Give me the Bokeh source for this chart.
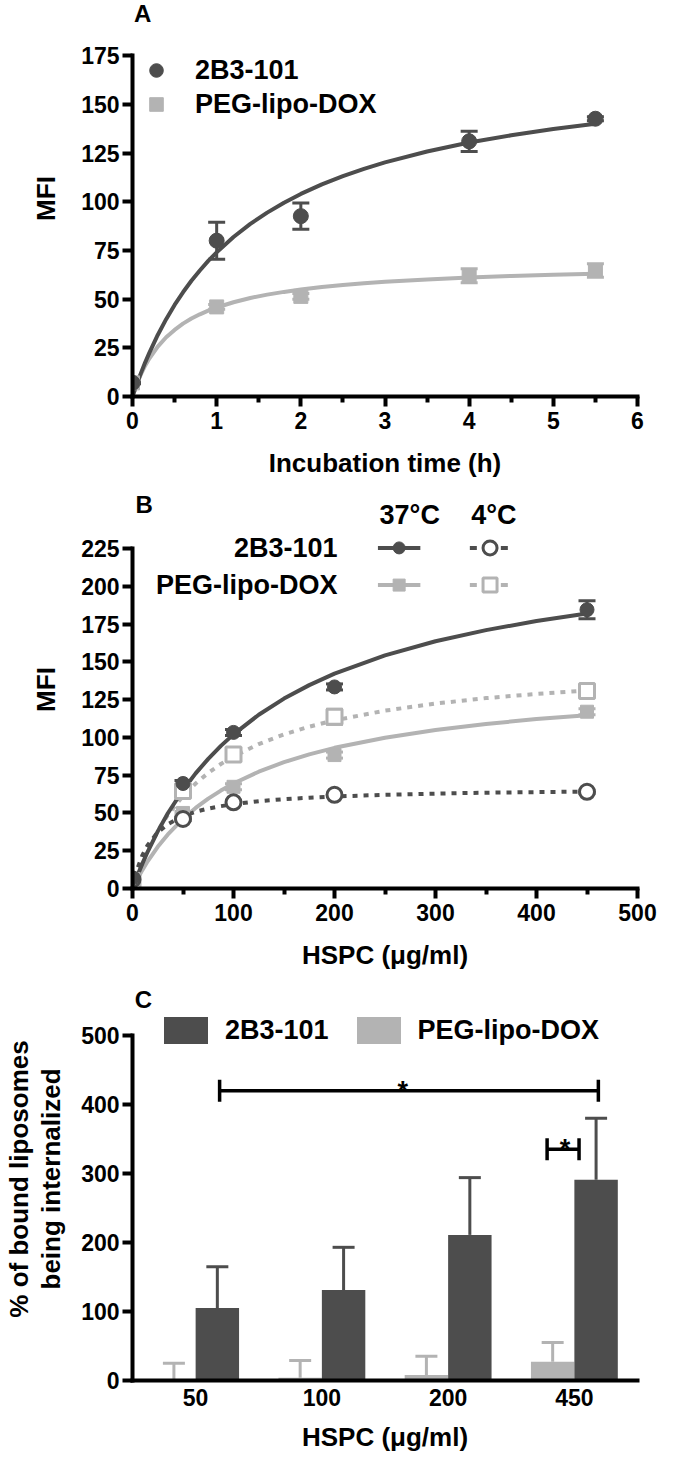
from bokeh.plotting import figure
from bokeh.models import (Range1d, FixedTicker, Whisker, TeeHead, ColumnDataSource,
                          Legend, LegendItem, FactorRange, Label)
from bokeh.transform import dodge
from bokeh.layouts import column
from bokeh.core.properties import value
from bokeh.embed import file_html
from bokeh.resources import INLINE

# ---------------- data: panel A ----------------
a_time = [0, 1, 2, 4, 5.5]
a_2b3 = [7, 80, 92.6, 131, 142.6]
a_2b3_sem = [0.5, 9.5, 6.8, 5.2, 1.0]
a_peg = [7, 46, 51.4, 62, 64.7]
a_peg_sem = [0.5, 1.2, 1.5, 3.6, 3.5]
a_fit_time = [0, 0.05, 0.1, 0.15, 0.2, 0.3, 0.4, 0.5, 0.6, 0.7, 0.8, 0.9, 1, 1.2, 1.4,
              1.6, 1.8, 2, 2.25, 2.5, 2.75, 3, 3.5, 4, 4.5, 5, 5.5]
a_fit_2b3 = [0, 6.2, 12.0, 17.4, 22.4, 31.6, 39.7, 47.0, 53.5, 59.4, 64.7, 69.6, 74.0, 81.9, 88.6,
             94.4, 99.5, 104.0, 108.9, 113.1, 116.9, 120.2, 125.8, 130.4, 134.1, 137.3, 140.0]
a_fit_peg = [0, 6.2, 11.4, 15.8, 19.5, 25.6, 30.4, 34.2, 37.4, 40.0, 42.2, 44.1, 45.7, 48.4, 50.6,
             52.3, 53.7, 54.9, 56.2, 57.2, 58.1, 58.9, 60.1, 61.1, 61.9, 62.5, 63.0]
a_xticks = [0, 1, 2, 3, 4, 5, 6]
a_xminor = [0.5, 1.5, 2.5, 3.5, 4.5, 5.5]
a_yticks = [0, 25, 50, 75, 100, 125, 150, 175]

# ---------------- data: panel B ----------------
b_hspc = [0, 50, 100, 200, 450]
b_2b3_37 = [7, 69.5, 103.3, 133.4, 184.5]
b_2b3_37_sem = [1, 2, 2, 2, 6]
b_peg_37 = [5, 50, 67.3, 88.3, 117]
b_peg_37_sem = [1, 1, 2, 2, 2]
b_2b3_4 = [6, 46, 57, 62, 64]
b_2b3_4_sem = [1, 1, 1, 1, 1]
b_peg_4 = [5, 64.5, 88.6, 113.6, 130.7]
b_peg_4_sem = [1, 2, 4, 5, 2]
b_fit_hspc = [0, 5, 10, 15, 25, 35, 50, 62.5, 75, 87.5, 100, 125, 150, 175, 200,
              250, 300, 350, 400, 450]
b_fit_2b3_37 = [0, 8.7, 16.8, 24.3, 37.8, 49.8, 65.2, 76.2, 85.8, 94.4, 102.0, 115.0, 125.7,
                134.6, 142.2, 154.3, 163.6, 171.0, 177.0, 182.0]
b_fit_peg_37 = [0, 6.5, 12.5, 18.0, 27.6, 35.8, 46.1, 53.3, 59.5, 64.8, 69.5, 77.3, 83.6,
                88.8, 93.1, 99.8, 104.9, 108.9, 112.1, 114.7]
b_fit_2b3_4 = [0, 13.4, 22.3, 28.7, 37.2, 42.6, 47.9, 50.8, 52.9, 54.5, 55.8, 57.8, 59.1,
               60.1, 60.9, 62.0, 62.8, 63.4, 63.8, 64.1]
b_fit_peg_4 = [0, 9.6, 18.0, 25.5, 38.3, 48.7, 61.2, 69.5, 76.5, 82.4, 87.4, 95.6, 102.0,
               107.1, 111.3, 117.7, 122.4, 126.0, 128.8, 131.1]
b_xticks = [0, 100, 200, 300, 400, 500]
b_xminor = [50, 150, 250, 350, 450]
b_yticks = [0, 25, 50, 75, 100, 125, 150, 175, 200, 225]

# ---------------- data: panel C ----------------
c_hspc = ["50", "100", "200", "450"]
c_2b3 = [105, 131, 211, 291]
c_2b3_sem = [60, 62, 83, 89]
c_peg = [0, 4, 8, 27]
c_peg_sem = [25, 25, 27, 28]
c_yticks = [0, 100, 200, 300, 400, 500]

DARK = "#4d4d4d"
LIGHT = "#b3b3b3"
FONT = "Liberation Sans"


def style(p):
    for ax in p.axis:
        ax.axis_line_width = 4
        ax.axis_line_color = "black"
        ax.axis_line_cap = "square"
        ax.major_tick_line_width = 4
        ax.major_tick_line_color = "black"
        ax.major_tick_out = 10
        ax.major_tick_in = 0
        ax.minor_tick_line_width = 4
        ax.minor_tick_line_color = "black"
        ax.minor_tick_out = 6
        ax.minor_tick_in = 0
        ax.major_label_text_font = FONT
        ax.major_label_text_font_style = "bold"
        ax.major_label_text_font_size = "23px"
        ax.major_label_text_color = "black"
        ax.axis_label_text_font = FONT
        ax.axis_label_text_font_style = "bold"
        ax.axis_label_text_font_size = "26px"
        ax.axis_label_text_color = "black"
    p.xgrid.visible = False
    p.ygrid.visible = False
    p.outline_line_color = None


def letter(p, x, y, t, **kw):
    p.add_layout(Label(x=x, y=y, text=t, text_font=FONT, text_font_style="bold",
                       text_font_size="24px", text_align="center",
                       text_baseline="middle", text_color="black", **kw))


def whisk(p, src, base, up, lo, color, head=17, lower_head=True):
    p.add_layout(Whisker(source=src, base=base, upper=up, lower=lo,
                         line_color=color, line_width=3,
                         upper_head=TeeHead(size=head, line_color=color, line_width=3),
                         lower_head=(TeeHead(size=head, line_color=color, line_width=3)
                                     if lower_head else None)))


def add_err(lst, sem, sign):
    return [v + sign * e for v, e in zip(lst, sem)]


# ================= Panel A =================
pa = figure(width=657, height=490, x_range=Range1d(0, 6), y_range=Range1d(0, 203.3),
            min_border_left=127, min_border_right=20, min_border_top=0,
            min_border_bottom=94, output_backend="svg", toolbar_location=None)
style(pa)
pa.xaxis.ticker = FixedTicker(ticks=a_xticks, minor_ticks=a_xminor)
pa.yaxis.ticker = FixedTicker(ticks=a_yticks, minor_ticks=[])
pa.xaxis.bounds = (0, 6)
pa.yaxis.bounds = (0, 175)
pa.xaxis.axis_label = "Incubation time (h)"
pa.yaxis.axis_label = "MFI"
pa.xaxis.major_label_standoff = 5
pa.yaxis.major_label_standoff = 3
pa.xaxis.axis_label_standoff = 16
pa.yaxis.axis_label_standoff = 17

srcA = ColumnDataSource(dict(t=a_time,
                             d=a_2b3, d_hi=add_err(a_2b3, a_2b3_sem, 1), d_lo=add_err(a_2b3, a_2b3_sem, -1),
                             l=a_peg, l_hi=add_err(a_peg, a_peg_sem, 1), l_lo=add_err(a_peg, a_peg_sem, -1)))
pa.line(a_fit_time, a_fit_peg, line_color=LIGHT, line_width=4)
pa.line(a_fit_time, a_fit_2b3, line_color=DARK, line_width=4)
whisk(pa, srcA, "t", "l_hi", "l_lo", LIGHT)
whisk(pa, srcA, "t", "d_hi", "d_lo", DARK)
rA_peg = pa.scatter("t", "l", source=srcA, marker="square", size=14,
                    fill_color=LIGHT, line_color=LIGHT)
rA_2b3 = pa.scatter("t", "d", source=srcA, marker="circle", size=15,
                    fill_color=DARK, line_color=DARK)
legA = Legend(items=[LegendItem(label="2B3-101", renderers=[rA_2b3]),
                     LegendItem(label="PEG-lipo-DOX", renderers=[rA_peg])],
              location=(7, 275), orientation="vertical", glyph_width=34,
              glyph_height=34, label_height=34, spacing=0, padding=0, margin=0,
              label_standoff=22, border_line_color=None, background_fill_alpha=0,
              label_text_font=FONT, label_text_font_style="bold",
              label_text_font_size="27px", label_text_color="black")
pa.add_layout(legA)
letter(pa, 0.12, 196.5, "A")

# ================= Panel B =================
pb = figure(width=657, height=487, x_range=Range1d(0, 500), y_range=Range1d(0, 263.4),
            min_border_left=127, min_border_right=20, min_border_top=0,
            min_border_bottom=89, output_backend="svg", toolbar_location=None)
style(pb)
pb.xaxis.ticker = FixedTicker(ticks=b_xticks, minor_ticks=b_xminor)
pb.yaxis.ticker = FixedTicker(ticks=b_yticks, minor_ticks=[])
pb.xaxis.bounds = (0, 500)
pb.yaxis.bounds = (0, 225)
pb.xaxis.axis_label = "HSPC (\u03bcg/ml)"
pb.yaxis.axis_label = "MFI"
pb.xaxis.major_label_standoff = 5
pb.yaxis.major_label_standoff = 3
pb.xaxis.axis_label_standoff = 16
pb.yaxis.axis_label_standoff = 17

srcB = ColumnDataSource(dict(
    x=b_hspc,
    d37=b_2b3_37, d37_hi=add_err(b_2b3_37, b_2b3_37_sem, 1), d37_lo=add_err(b_2b3_37, b_2b3_37_sem, -1),
    l37=b_peg_37, l37_hi=add_err(b_peg_37, b_peg_37_sem, 1), l37_lo=add_err(b_peg_37, b_peg_37_sem, -1),
    d4=b_2b3_4, d4_hi=add_err(b_2b3_4, b_2b3_4_sem, 1), d4_lo=add_err(b_2b3_4, b_2b3_4_sem, -1),
    l4=b_peg_4, l4_hi=add_err(b_peg_4, b_peg_4_sem, 1), l4_lo=add_err(b_peg_4, b_peg_4_sem, -1),
))
DOT = "5 6"
pb.line(b_fit_hspc, b_fit_peg_37, line_color=LIGHT, line_width=4)
pb.line(b_fit_hspc, b_fit_peg_4, line_color=LIGHT, line_width=4, line_dash=DOT)
pb.line(b_fit_hspc, b_fit_2b3_4, line_color=DARK, line_width=4, line_dash=DOT)
pb.line(b_fit_hspc, b_fit_2b3_37, line_color=DARK, line_width=4)
whisk(pb, srcB, "x", "l37_hi", "l37_lo", LIGHT)
whisk(pb, srcB, "x", "l4_hi", "l4_lo", LIGHT)
whisk(pb, srcB, "x", "d4_hi", "d4_lo", DARK)
whisk(pb, srcB, "x", "d37_hi", "d37_lo", DARK)
pb.scatter("x", "l37", source=srcB, marker="square", size=13, fill_color=LIGHT, line_color=LIGHT)
pb.scatter("x", "l4", source=srcB, marker="square", size=15, fill_color="white",
           line_color=LIGHT, line_width=3)
pb.scatter("x", "d4", source=srcB, marker="circle", size=15, fill_color="white",
           line_color=DARK, line_width=3)
pb.scatter("x", "d37", source=srcB, marker="circle", size=14, fill_color=DARK, line_color=DARK)

# legend table of panel B
TXT = dict(text_font=FONT, text_font_style="bold", text_font_size="27px",
           text_color="black", text_baseline="middle")
pb.add_layout(Label(x=274.5, y=247.3, text="37\u00b0C", text_align="center", **TXT))
pb.add_layout(Label(x=357.8, y=247.3, text="4\u00b0C", text_align="center", **TXT))
pb.add_layout(Label(x=203, y=225.4, text="2B3-101", text_align="right", **TXT))
pb.add_layout(Label(x=203, y=200.8, text="PEG-lipo-DOX", text_align="right", **TXT))
for yy, col in ((225.4, DARK), (200.8, LIGHT)):
    pb.line([243, 285], [yy, yy], line_color=col, line_width=4)
    pb.line([334, 373], [yy, yy], line_color=col, line_width=4, line_dash="7 24")
pb.scatter([264], [225.4], marker="circle", size=12, fill_color=DARK, line_color=DARK)
pb.scatter([264], [200.8], marker="square", size=12, fill_color=LIGHT, line_color=LIGHT)
pb.scatter([354], [225.4], marker="circle", size=14, fill_color="white", line_color=DARK, line_width=3)
pb.scatter([354], [200.8], marker="square", size=14, fill_color="white", line_color=LIGHT, line_width=3)
letter(pb, 11.5, 254, "B")

# ================= Panel C =================
pc = figure(width=657, height=478, x_range=FactorRange(factors=c_hspc, range_padding=0),
            y_range=Range1d(0, 584), min_border_left=127, min_border_right=20,
            min_border_top=0, min_border_bottom=75, output_backend="svg",
            toolbar_location=None)
style(pc)
pc.yaxis.ticker = FixedTicker(ticks=c_yticks, minor_ticks=[])
pc.yaxis.bounds = (0, 500)
pc.xaxis.major_tick_line_color = None
pc.xaxis.major_tick_out = 0
pc.xaxis.major_label_standoff = 8
pc.xaxis.axis_label = "HSPC (\u03bcg/ml)"
pc.yaxis.axis_label = "% of bound liposomes\nbeing internalized"
pc.yaxis.axis_label_text_line_height = 1.08
pc.yaxis.major_label_standoff = 3
pc.xaxis.axis_label_standoff = 13
pc.yaxis.axis_label_standoff = 12

BW = 0.344
srcC = ColumnDataSource(dict(c=c_hspc, d=c_2b3, d_hi=add_err(c_2b3, c_2b3_sem, 1),
                             l=c_peg, l_hi=add_err(c_peg, c_peg_sem, 1)))
rC_peg = pc.vbar(x=dodge("c", -BW / 2, range=pc.x_range), top="l", width=BW,
                 source=srcC, fill_color=LIGHT, line_color=None)
rC_2b3 = pc.vbar(x=dodge("c", BW / 2, range=pc.x_range), top="d", width=BW,
                 source=srcC, fill_color=DARK, line_color=None)
whisk(pc, srcC, dodge("c", -BW / 2, range=pc.x_range), "l_hi", "l", LIGHT, head=22, lower_head=False)
whisk(pc, srcC, dodge("c", BW / 2, range=pc.x_range), "d_hi", "d", DARK, head=22, lower_head=False)

# significance brackets
big = ColumnDataSource(dict(c0=["50"], c1=["450"], y=[420]))
pc.segment(x0=dodge("c0", 0.19, range=pc.x_range), x1=dodge("c1", 0.19, range=pc.x_range),
           y0="y", y1="y", source=big, line_color="black", line_width=3.5)
bigt = ColumnDataSource(dict(c=["50", "450"], lo=[404, 404], hi=[436, 436]))
pc.segment(x0=dodge("c", 0.19, range=pc.x_range), x1=dodge("c", 0.19, range=pc.x_range),
           y0="lo", y1="hi", source=bigt, line_color="black", line_width=3.5)
small = ColumnDataSource(dict(c=["450"], y=[335], lo=[319], hi=[351]))
pc.segment(x0=dodge("c", -0.216, range=pc.x_range), x1=dodge("c", 0.037, range=pc.x_range),
           y0="y", y1="y", source=small, line_color="black", line_width=3.5)
for off in (-0.216, 0.037):
    pc.segment(x0=dodge("c", off, range=pc.x_range), x1=dodge("c", off, range=pc.x_range),
               y0="lo", y1="hi", source=small, line_color="black", line_width=3.5)
stars = ColumnDataSource(dict(c=["200"], y=[420], t=["*"]))
pc.text(x=dodge("c", -0.36, range=pc.x_range), y="y", text="t", source=stars,
        text_font=value(FONT), text_font_style="bold", text_font_size="27px",
        text_align="center", text_baseline="alphabetic", text_color="black")
stars2 = ColumnDataSource(dict(c=["450"], y=[335], t=["*"]))
pc.text(x=dodge("c", -0.074, range=pc.x_range), y="y", text="t", source=stars2,
        text_font=value(FONT), text_font_style="bold", text_font_size="27px",
        text_align="center", text_baseline="alphabetic", text_color="black")

legC = Legend(items=[LegendItem(label="2B3-101", renderers=[rC_2b3]),
                     LegendItem(label="PEG-lipo-DOX", renderers=[rC_peg])],
              location=(26, 333), orientation="horizontal", glyph_width=55,
              glyph_height=34, label_height=34, spacing=22, padding=0, margin=0,
              label_standoff=12, border_line_color=None, background_fill_alpha=0,
              label_text_font=FONT, label_text_font_style="bold",
              label_text_font_size="27px", label_text_color="black")
pc.add_layout(legC)
letter(pc, 11, 552, "C", x_units="screen")

layout = column(pa, pb, pc, spacing=0)
open("out.html", "w").write(file_html(layout, INLINE))
